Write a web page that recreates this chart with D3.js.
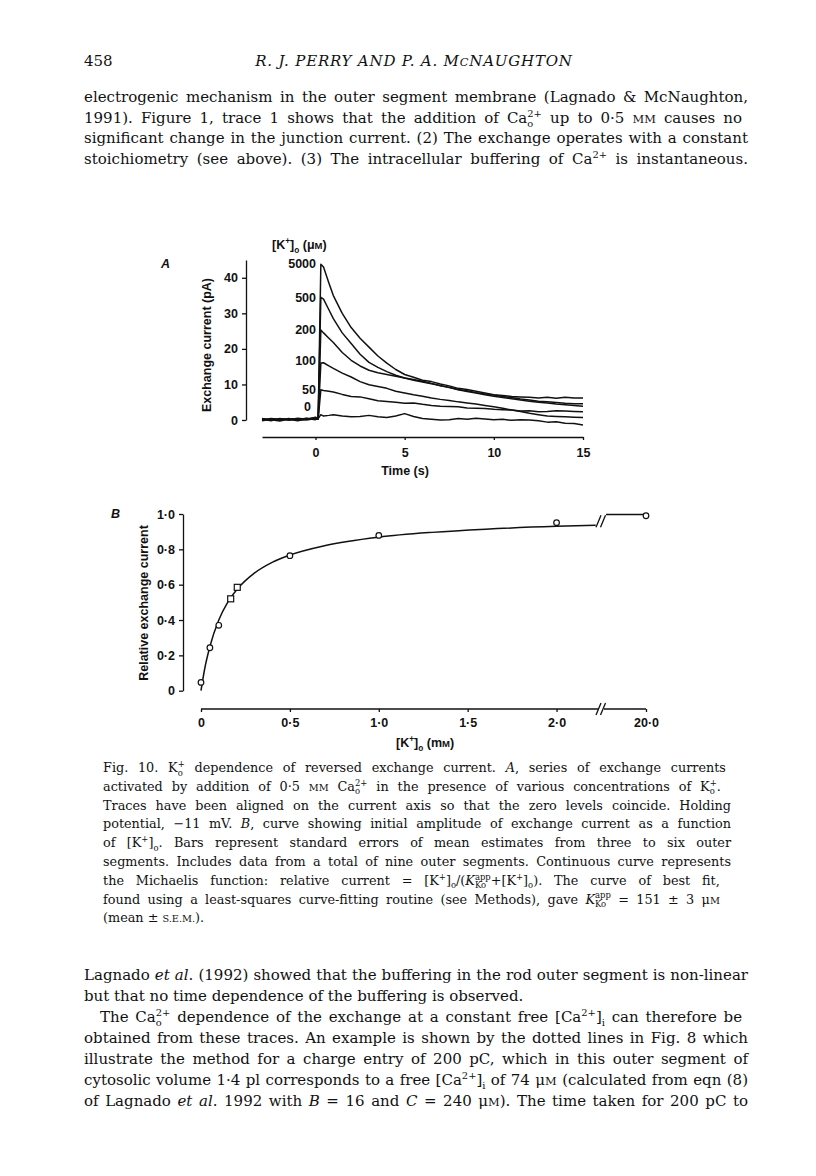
<!DOCTYPE html>
<html>
  <head>
    <meta charset="utf-8">
    <title>Fig. 10</title>
    <script src="https://cdnjs.cloudflare.com/ajax/libs/d3/7.8.5/d3.min.js"></script>
    <style>
      body { margin: 0; background: #fff; }
      .serif { font-family: "DejaVu Serif", "Liberation Serif", serif; fill: #111; }
      .lab, .axis text { font-family: "Liberation Sans", Arial, sans-serif; font-weight: bold; font-size: 12.5px; fill: #111; }
      .axis path, .axis line { stroke: #111; stroke-width: 1.3; }
      .trace { fill: none; stroke: #111; stroke-width: 1.5; stroke-linejoin: round; }
    </style>
  </head>
  <body>
    <script>
      // ---- panel A : exchange current traces (pA) vs time (s)
      var times = [-3, -2.5, -2, -1.5, -1, -0.5, 0, 0.15, 0.3, 0.45, 0.75, 1,
                   1.5, 2, 2.5, 3, 3.5, 4, 4.5, 5, 5.5, 6, 6.5, 7, 7.5, 8, 8.5, 9,
                   9.5, 10, 10.5, 11, 11.5, 12, 12.5, 13, 13.5, 14, 14.5, 15];
      var kLabels = ["5000", "500", "200", "100", "50", "0"];
      var labelLevel = [43.8, 34.2, 25.2, 16.5, 8.4, 3.7];
      var trace5000 = [0.3, -0.2, 0.4, 0.1, 0.5, 0.2, 0.6, 0.4, 43.8, 43.0, 38.5, 35.0,
                       30.0, 26.0, 23.0, 20.5, 18.0, 16.0, 14.2, 12.8, 12.0, 11.2, 10.8, 10.1, 9.6, 8.9, 8.6, 8.1,
                       7.6, 7.1, 6.9, 6.6, 6.5, 6.4, 6.2, 6.4, 6.1, 6.4, 6.2, 6.2];
      var trace500 = [0.1, 0.3, -0.1, 0.4, 0, 0.5, 0.2, 0.6, 34.5, 34.0, 31.0, 28.5,
                      24.5, 21.5, 18.5, 16.2, 14.8, 13.6, 12.6, 11.8, 11.2, 10.7, 10.2, 9.7, 9.1, 8.5, 8.0, 7.6,
                      7.1, 6.7, 6.3, 6.0, 5.6, 5.3, 5.0, 4.8, 4.5, 4.3, 4.1, 3.9];
      var trace200 = [-0.2, 0.2, 0.1, 0.3, 0.2, 0, 0.4, 0.3, 25.3, 24.5, 23.0, 21.8,
                      19.0, 16.8, 15.2, 14.0, 13.3, 12.8, 12.3, 11.8, 11.4, 10.9, 10.3, 9.6, 9.2, 8.6, 8.2, 7.7,
                      7.3, 7.0, 6.6, 6.3, 5.9, 5.6, 5.3, 5.1, 4.9, 4.7, 4.6, 4.6];
      var trace100 = [0.4, 0, 0.3, -0.1, 0.3, 0.4, 0.1, 0.5, 16.0, 16.1, 15.2, 14.5,
                      13.2, 12.1, 10.8, 9.9, 9.4, 8.9, 8.1, 7.6, 7.1, 6.7, 6.2, 5.8, 5.5, 5.1, 4.8, 4.5,
                      4.1, 3.7, 3.3, 2.8, 2.4, 1.9, 1.5, 1.1, 1.0, 0.9, 0.8, 0.7];
      var trace50 = [0, 0.4, 0.2, 0.2, -0.2, 0.3, 0.5, 0.2, 8.5, 8.3, 8.1, 7.9,
                     7.2, 6.6, 6.5, 6.0, 5.4, 5.2, 5.0, 4.7, 4.8, 4.4, 4.1, 3.9, 3.8, 3.7, 3.4, 3.3,
                     3.2, 3.0, 2.9, 2.8, 2.5, 2.6, 2.3, 2.4, 2.6, 2.5, 2.4, 2.3];
      var trace0 = [0.2, 0.1, -0.3, 0.3, 0.1, 0.2, 0.8, 0.4, 1.5, 1.1, 1.3, 1.5,
                    1.1, 0.9, 1.0, 1.3, 0.9, 0.7, 1.1, 1.8, 1.0, 0.4, 0.2, 0.0, 0.1, 0.4, 0.2, 0.5,
                    0.3, 0.1, 0.2, -0.1, 0.1, 0.0, -0.2, -0.6, -0.5, -0.9, -1.0, -1.4];
      var traces = [trace5000, trace500, trace200, trace100, trace50, trace0];
      var timeTicks = [0, 5, 10, 15];
      var currentTicks = [0, 10, 20, 30, 40];

      // ---- panel B : relative exchange current vs [K+]o (mM)
      var circleK = [0, 0.05, 0.1, 0.5, 1.0, 2.0, 20];
      var circleRel = [0.047, 0.243, 0.37, 0.764, 0.879, 0.951, 0.99];
      var squareK = [0.167, 0.204];
      var squareRel = [0.52, 0.585];
      var curveK = [0, 0.02, 0.05, 0.1, 0.15, 0.2, 0.3, 0.4, 0.5, 0.7, 1.0, 1.3, 1.6, 2.0, 2.22];
      var curveRel = [0, 0.12, 0.25, 0.40, 0.50, 0.57, 0.665, 0.726, 0.768, 0.822, 0.869, 0.896, 0.914, 0.930, 0.936];
      var afterBreakRel = 0.997;
      var breakK = 2.25;
      var kTicks = [0, 0.5, 1, 1.5, 2, 20];
      var relTicks = [0, 0.2, 0.4, 0.6, 0.8, 1.0];

      // ---- page text
      var header = "R. J. PERRY AND P. A. M#{C}NAUGHTON";
      var bodyLines = [
        "electrogenic mechanism in the outer segment membrane (Lagnado & McNaughton,",
        "1991). Figure 1, trace 1 shows that the addition of Ca^{2+}~{o} up to 0·5 #{MM} causes no",
        "significant change in the junction current. (2) The exchange operates with a constant",
        "stoichiometry (see above). (3) The intracellular buffering of Ca^{2+} is instantaneous."
      ];
      var captionLines = [
        "Fig. 10. K^{+}~{o} dependence of reversed exchange current. *{A}, series of exchange currents",
        "activated by addition of 0·5 #{MM} Ca^{2+}~{o} in the presence of various concentrations of K^{+}~{o}.",
        "Traces have been aligned on the current axis so that the zero levels coincide. Holding",
        "potential, −11 mV. *{B}, curve showing initial amplitude of exchange current as a function",
        "of [K^{+}]_{o}. Bars represent standard errors of mean estimates from three to six outer",
        "segments. Includes data from a total of nine outer segments. Continuous curve represents",
        "the Michaelis function: relative current = [K^{+}]_{o}/(*{K}^{app}~{Ko}+[K^{+}]_{o}). The curve of best fit,",
        "found using a least-squares curve-fitting routine (see Methods), gave *{K}^{app}~{Ko} = 151 ± 3 μ#{M}",
        "(mean ± #{S.E.M.})."
      ];
      var finalLines = [
        "Lagnado *{et al}. (1992) showed that the buffering in the rod outer segment is non-linear",
        "but that no time dependence of the buffering is observed.",
        "The Ca^{2+}~{o} dependence of the exchange at a constant free [Ca^{2+}]_{i} can therefore be",
        "obtained from these traces. An example is shown by the dotted lines in Fig. 8 which",
        "illustrate the method for a charge entry of 200 pC, which in this outer segment of",
        "cytosolic volume 1·4 pl corresponds to a free [Ca^{2+}]_{i} of 74 μ#{M} (calculated from eqn (8)",
        "of Lagnado *{et al}. 1992 with *{B} = 16 and *{C} = 240 μ#{M}). The time taken for 200 pC to"
      ];

      var svg = d3.select("body").append("svg").attr("width", 816).attr("height", 1176);

      // tiny markup: ^{sup} _{sub} ~{sub under previous sup} *{italic} #{small caps}
      function rich(g, str, x, y, size, cls, width) {
        var t = g.append("text").attr("class", cls).attr("x", x).attr("y", y)
                 .style("font-size", size + "px");
        var re = /([\^_~*#])\{([^}]*)\}/g, last = 0, m, shift = 0, prev = null, pend = 0;
        function add(s, k) {
          var sp = t.append("tspan").text(s);
          var target = k === "^" ? -0.4 * size : (k === "_" || k === "~") ? 0.28 * size : 0;
          if (target !== shift) sp.attr("dy", target - shift);
          shift = target;
          if ("^_~".indexOf(k) >= 0 && k !== "") sp.style("font-size", (0.66 * size) + "px");
          if (k === "*") sp.style("font-style", "italic");
          if (k === "#") sp.style("font-size", (0.76 * size) + "px");
          if (k === "~" && prev) {
            var w = prev.node().getComputedTextLength();
            sp.attr("dx", -w);
            pend = Math.max(0, w - sp.node().getComputedTextLength());
          } else if (pend) { sp.attr("dx", pend); pend = 0; }
          prev = sp;
        }
        while ((m = re.exec(str))) {
          if (m.index > last) add(str.slice(last, m.index), "");
          add(m[2], m[1]);
          last = re.lastIndex;
        }
        if (last < str.length) add(str.slice(last), "");
        if (width) {
          var len = t.node().getComputedTextLength();
          var n = (t.text().match(/ /g) || []).length;
          if (n) t.attr("word-spacing", (width - len) / n);
        }
        return t;
      }

      // page header and text
      var page = svg.append("g");
      rich(page, "458", 84, 66, 15, "serif");
      rich(page, header, 414, 66, 15, "serif").style("font-style", "italic")
        .attr("text-anchor", "middle").attr("letter-spacing", 0.8);

      bodyLines.forEach(function (s, i) {
        rich(page, s, 84, 102 + i * 20.6, 15, "serif", 664);
      });
      captionLines.forEach(function (s, i) {
        rich(page, s, 103, 772 + i * 18.8, 12.8, "serif", i < captionLines.length - 1 ? 628 : null);
      });
      finalLines.forEach(function (s, i) {
        var x = i === 2 ? 100 : 84;
        rich(page, s, x, 980 + i * 21, 15, "serif", i === 1 ? null : 748 - x);
      });

      //////////////////////////////////////////////////////////
      // panel A

      var xA = d3.scaleLinear().domain([-3, 15]).range([262, 583]);
      var yA = d3.scaleLinear().domain([0, 45]).range([420, 260]);
      var gA = svg.append("g");

      gA.append("g").attr("class", "axis").attr("transform", "translate(246,0)")
        .call(d3.axisLeft(yA).tickValues(currentTicks).tickSize(4).tickSizeOuter(0).tickPadding(4));
      gA.append("g").attr("class", "axis").attr("transform", "translate(0,437)")
        .call(d3.axisBottom(xA).tickValues(timeTicks).tickSize(3).tickSizeOuter(0).tickPadding(8));

      var lineA = d3.line().x(function (d, i) { return xA(times[i]); }).y(function (d) { return yA(d); });
      gA.selectAll("path.trace").data(traces).enter()
        .append("path").attr("class", "trace").attr("d", lineA);

      gA.selectAll("text.klab").data(kLabels).enter()
        .append("text").attr("class", "lab klab")
        .attr("text-anchor", "end")
        .attr("x", function (d, i) { return i === 5 ? 311 : 316; })
        .attr("y", function (d, i) { return yA(labelLevel[i]) + 4; })
        .text(function (d) { return d; });

      rich(gA, "[K^{+}]_{o} (μ#{M})", 272, 249, 12.5, "lab");
      gA.append("text").attr("class", "lab").attr("x", 161).attr("y", 268)
        .style("font-style", "italic").text("A");
      gA.append("text").attr("class", "lab").attr("text-anchor", "middle")
        .attr("x", 405).attr("y", 475).text("Time (s)");
      gA.append("text").attr("class", "lab").attr("text-anchor", "middle")
        .attr("transform", "translate(211,345) rotate(-90)").text("Exchange current (pA)");

      //////////////////////////////////////////////////////////
      // panel B

      var xB = d3.scaleLinear().domain([0, breakK, 20]).range([201, 601, 646]);
      var yB = d3.scaleLinear().domain([0, 1]).range([690.7, 514]);
      var gB = svg.append("g");
      var dot = function (d) { return d === 0 ? "0" : d3.format(".1f")(d).replace(".", "·"); };

      gB.append("g").attr("class", "axis").attr("transform", "translate(183,0)")
        .call(d3.axisLeft(yB).tickValues(relTicks).tickFormat(dot).tickSize(4).tickSizeOuter(0).tickPadding(4));
      var axB = gB.append("g").attr("class", "axis").attr("transform", "translate(0,709)")
        .call(d3.axisBottom(xB).tickValues(kTicks).tickFormat(dot).tickSize(3).tickSizeOuter(0).tickPadding(6));
      axB.select(".domain").remove();

      var gap = 3;
      var xb = xB(breakK);
      [[xB(0), xb - gap], [xb + gap, xB(20)]].forEach(function (s) {
        axB.append("line").attr("x1", s[0]).attr("x2", s[1]).attr("y1", 0).attr("y2", 0);
      });

      var lineB = d3.line().curve(d3.curveMonotoneX)
        .x(function (d) { return xB(d[0]); }).y(function (d) { return yB(d[1]); });
      gB.append("path").attr("class", "trace").attr("stroke-width", 1.3)
        .attr("d", lineB(curveK.map(function (k, i) { return [k, curveRel[i]]; })));
      gB.append("path").attr("class", "trace").attr("stroke-width", 1.3)
        .attr("d", "M" + (xb + 5) + "," + yB(afterBreakRel) + "H" + xB(20));

      // break marks
      [yB(curveRel[curveRel.length - 1]) - 4, 709].forEach(function (yy) {
        [-2.5, 2].forEach(function (o) {
          gB.append("line").attr("x1", xb + o - 2.5).attr("y1", yy + 6)
            .attr("x2", xb + o + 2.5).attr("y2", yy - 6)
            .attr("stroke", "#111").attr("stroke-width", 1.3);
        });
      });

      gB.selectAll("circle.pt").data(circleK).enter()
        .append("circle").attr("class", "pt")
        .attr("cx", function (d) { return xB(d); })
        .attr("cy", function (d, i) { return yB(circleRel[i]); })
        .attr("r", 2.8).attr("fill", "#fff").attr("stroke", "#111").attr("stroke-width", 1.2);
      gB.selectAll("rect.pt").data(squareK).enter()
        .append("rect").attr("class", "pt")
        .attr("x", function (d) { return xB(d) - 3; })
        .attr("y", function (d, i) { return yB(squareRel[i]) - 3; })
        .attr("width", 6).attr("height", 6)
        .attr("fill", "#fff").attr("stroke", "#111").attr("stroke-width", 1.2);

      gB.append("text").attr("class", "lab").attr("x", 111).attr("y", 518)
        .style("font-style", "italic").text("B");
      rich(gB, "[K^{+}]_{o} (m#{M})", 396, 747, 12.5, "lab");
      gB.append("text").attr("class", "lab").attr("text-anchor", "middle")
        .attr("transform", "translate(148,603) rotate(-90)").text("Relative exchange current");
    </script>
  </body>
</html>
